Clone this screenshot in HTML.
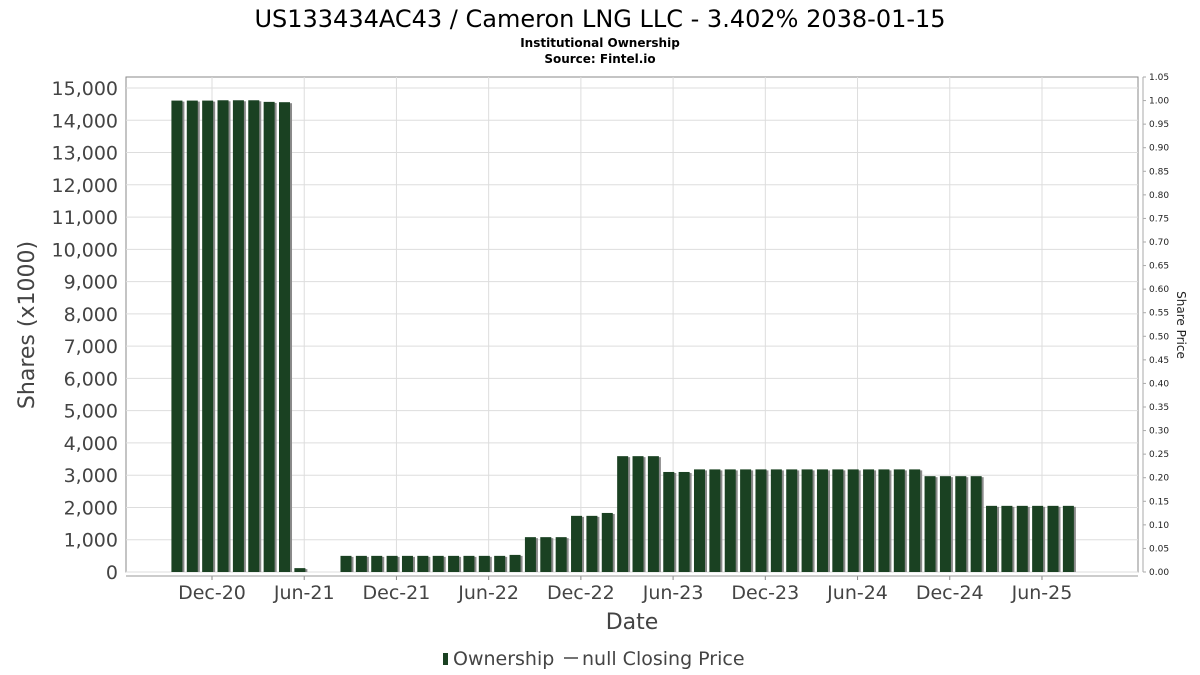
<!DOCTYPE html>
<html><head><meta charset="utf-8"><style>
body{margin:0;background:#fff;}
svg{display:block;font-family:"DejaVu Sans","Liberation Sans",sans-serif;}
</style></head><body>
<svg id="chart" width="1200" height="675">
<text x="600" y="27" text-anchor="middle" font-size="24" fill="#000">US133434AC43 / Cameron LNG LLC - 3.402% 2038-01-15</text>
<text x="600" y="47" text-anchor="middle" font-size="12" font-weight="bold">Institutional Ownership</text>
<text x="600" y="63" text-anchor="middle" font-size="12" font-weight="bold">Source: Fintel.io</text>
<g id="grid"></g>
<g id="bars"></g>
<g id="axes"></g>
<text transform="translate(34,325) rotate(-90)" text-anchor="middle" font-size="22" fill="#444">Shares (x1000)</text>
<text transform="translate(1177,325) rotate(90)" text-anchor="middle" font-size="12" fill="#222">Share Price</text>
<text x="632" y="629" text-anchor="middle" font-size="22" fill="#444">Date</text>
<g>
<rect x="443" y="653" width="5" height="12" fill="#1a4122"></rect>
<text x="453" y="665" font-size="19" fill="#444">Ownership</text>
<line x1="564" y1="658" x2="578" y2="658" stroke="#444" stroke-width="1.5"></line>
<text x="582" y="665" font-size="19" fill="#444">null Closing Price</text>
</g>
</svg>
<script>
const values = [14610,14610,14610,14620,14620,14620,14570,14560,120,0,0,500,500,500,500,500,500,500,500,500,500,500,530,1080,1080,1080,1740,1740,1830,3590,3590,3590,3100,3100,3180,3180,3180,3180,3180,3180,3180,3180,3180,3180,3180,3180,3180,3180,3180,2970,2970,2970,2970,2050,2050,2050,2050,2050,2050];
const leftTicks = [0,1000,2000,3000,4000,5000,6000,7000,8000,9000,10000,11000,12000,13000,14000,15000];
const rightTicks = [0,0.05,0.1,0.15,0.2,0.25,0.3,0.35,0.4,0.45,0.5,0.55,0.6,0.65,0.7,0.75,0.8,0.85,0.9,0.95,1.0,1.05];
const xTickLabels = ["Dec-20","Jun-21","Dec-21","Jun-22","Dec-22","Jun-23","Dec-23","Jun-24","Dec-24","Jun-25"];
const firstBarMonthOffset = -2.25;
const NS="http://www.w3.org/2000/svg";
const L=126,R=1138,T=77,B=572;
const y=v=>B-v/15000*484;
const yr=v=>B-v/1.05*(B-T);
const xm=m=>212+m*15.37;
function mk(tag,attrs,parent){const e=document.createElementNS(NS,tag);for(const k in attrs)e.setAttribute(k,attrs[k]);parent.appendChild(e);return e;}
const grid=document.getElementById('grid'),bars=document.getElementById('bars'),axes=document.getElementById('axes');
const plot=mk('rect',{x:L,y:T,width:R-L,height:B-T,fill:'#fff',stroke:'#888'},grid);


leftTicks.forEach(v=>{
  const g=mk('line',{x1:L,x2:R,y1:y(v),y2:y(v),stroke:'#ddd'},grid);
  
  
  const t=mk('text',{x:118,y:y(v)+7,'text-anchor':'end','font-size':19,fill:'#444'},axes);
  t.textContent=v.toLocaleString('en-US');
  
  
});
xTickLabels.forEach((s,i)=>{
  const x=xm(i*6);
  const g=mk('line',{x1:x,x2:x,y1:T,y2:B,stroke:'#ddd'},grid);
  
  
  mk('line',{x1:x,x2:x,y1:576,y2:580,stroke:'#888'},axes);
  const t=mk('text',{x:x,y:599,'text-anchor':'middle','font-size':19,fill:'#444'},axes);
  t.textContent=s;
  
  
});
mk('line',{x1:L,x2:R,y1:576,y2:576,stroke:'#999'},axes);
mk('line',{x1:1143,x2:1143,y1:T,y2:B,stroke:'#aaa'},axes);
rightTicks.forEach(v=>{
  mk('line',{x1:1143,x2:1146,y1:yr(v),y2:yr(v),stroke:'#aaa'},axes);
  const t=mk('text',{x:1149,y:yr(v)+3,'font-size':9,fill:'#222'},axes);
  t.textContent=v.toFixed(2);
  
  
});
values.forEach((v,i)=>{
  if(v<=0)return;
  const cx=xm(i+firstBarMonthOffset);
  mk('rect',{x:cx-5,y:y(v)+1,width:12,height:B-y(v)-1,fill:'#8a8a8a'},bars);
  const r=mk('rect',{x:cx-6,y:y(v),width:11,height:B-y(v),fill:'#1a4122'},bars);
  
  
});
</script>
</body></html>
